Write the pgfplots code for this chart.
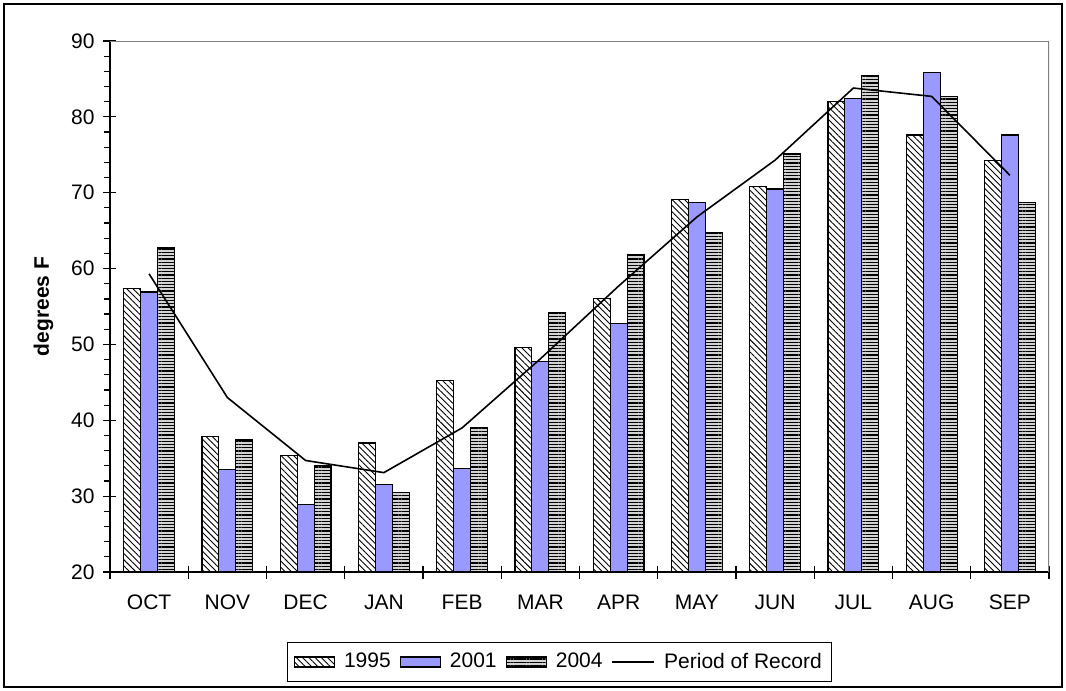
\documentclass[border=0pt]{standalone}
\usepackage{pgfplots}
\pgfplotsset{compat=1.18}
\usetikzlibrary{patterns.meta}
\usepackage{fontspec}
\setmainfont{Liberation Sans}
\definecolor{peri}{HTML}{9999FF}
\begin{document}
\begin{tikzpicture}
\begin{axis}[
    width=469.5pt, height=265.5pt, scale only axis,
    ybar=0pt, bar width=0.217,
    xmin=-0.5, xmax=11.5, ymin=20, ymax=90,
    axis lines=left, axis line style={-, black, line width=0.7pt},
    xtick={0,1,2,3,4,5,6,7,8,9,10,11},
    xticklabels={OCT,NOV,DEC,JAN,FEB,MAR,APR,MAY,JUN,JUL,AUG,SEP},
    major x tick style={draw=none},
    extra x ticks={-0.5,0.5,1.5,2.5,3.5,4.5,5.5,6.5,7.5,8.5,9.5,10.5,11.5},
    extra x tick labels={},
    extra x tick style={major x tick style={draw=black, line width=0.6pt}},
    ytick={20,30,...,90},
    minor y tick num=4,
    tick align=center, major tick length=6.5pt, minor tick length=3pt,
    minor y tick style={xshift=-1.5pt},
    tick style={black, line width=0.6pt},
    tick label style={font=\fontsize{10.5}{12}\selectfont},
    /pgf/number format/assume math mode=true,
    yticklabel style={xshift=-1pt},
    xticklabel style={yshift=-4.5pt},
    ylabel={\bfseries degrees F},
    ylabel style={font=\fontsize{10.5}{12}\selectfont, yshift=2pt},
    legend style={at={(0.479,-0.1695)}, anchor=center, draw=black,
      line width=0.6pt, font=\fontsize{10.5}{12}\selectfont,
      inner xsep=3pt, inner ysep=3pt, column sep=2.5pt},
    legend columns=4,
    legend image code/.code={\draw[#1] (0pt,-2.5pt) rectangle (20pt,2.5pt);},
  ]
\addplot[draw=black, line width=0.6pt, fill=white,
  postaction={pattern={Lines[angle=-45, distance=2.2pt, line width=0.45pt]}}]
  coordinates {(0,57.4) (1,37.9) (2,35.4) (3,37.0) (4,45.2) (5,49.6)
               (6,56.1) (7,69.1) (8,70.8) (9,82.0) (10,77.6) (11,74.2)};
\addlegendentry{1995}
\addplot[draw=black, line width=0.6pt, fill=peri]
  coordinates {(0,56.9) (1,33.5) (2,28.9) (3,31.5) (4,33.6) (5,47.7)
               (6,52.8) (7,68.7) (8,70.5) (9,82.4) (10,85.9) (11,77.6)};
\addlegendentry{2001}
\addplot[draw=black, line width=0.6pt, fill=gray!35,
  postaction={pattern={Lines[angle=0, distance=1.6pt, line width=0.6pt]}}]
  coordinates {(0,62.7) (1,37.4) (2,34.0) (3,30.5) (4,39.1) (5,54.2)
               (6,61.8) (7,64.8) (8,75.1) (9,85.5) (10,82.7) (11,68.7)};
\addlegendentry{2004}
\addplot[sharp plot, black, line width=0.8pt,
  legend image code/.code={\draw[black, line width=0.8pt] (0pt,0pt) -- (21pt,0pt);}]
  coordinates {(0,59.3) (1,43.0) (2,34.7) (3,33.1) (4,39.0) (5,48.1)
               (6,57.7) (7,66.8) (8,74.3) (9,83.8) (10,82.7) (11,72.3)};
\addlegendentry{Period of Record}
\draw[gray, line width=0.7pt] (rel axis cs:0,1) -- (rel axis cs:1,1) -- (rel axis cs:1,0);
\end{axis}
\draw[black, line width=0.8pt] (-53pt,-57.5pt) rectangle (476pt,284pt);
\path (-55pt,-59.5pt) rectangle (478pt,286pt);
\end{tikzpicture}
\end{document}
